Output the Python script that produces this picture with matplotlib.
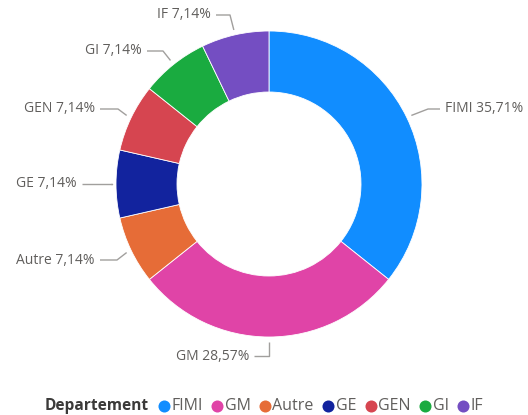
import numpy as np
import matplotlib
matplotlib.use('Agg')
from matplotlib import pyplot as plt

# data
categories = ['FIMI', 'GM', 'Autre', 'GE', 'GEN', 'GI', 'IF']
counts = [5, 4, 1, 1, 1, 1, 1]
colors = ['#118DFF', '#E044A7', '#E66C37', '#12239E', '#D64550', '#1AAB40', '#744EC2']
legend_title = 'Departement'

W, H = 528, 415
CX, CY = 269, 184      # donut centre, pixels from top-left
R_OUT, R_IN = 153, 92

# label layout: (elbow x, elbow y, line end x, text side)
label_layout = {
    'FIMI': (428, 109, 440, 'left'),
    'GM': (269, 356, 254, 'right'),
    'Autre': (117, 260, 100, 'right'),
    'GE': (112, 184, 82, 'right'),
    'GEN': (118, 109, 100, 'right'),
    'GI': (163, 51, 147, 'right'),
    'IF': (230, 15, 216, 'right'),
}

plt.rcParams['font.family'] = ['Open Sans', 'DejaVu Sans']
LABEL_COLOR = '#605E5C'
LINE_COLOR = '#A19F9D'

fig = plt.figure(figsize=(W / 100, H / 100), dpi=100)
ax = fig.add_axes([0, 0, 1, 1])
ax.set_xlim(0, W)
ax.set_ylim(0, H)
ax.set_aspect('equal')
ax.axis('off')

def fy(y):
    return H - y

wedges, _ = ax.pie(counts, colors=colors, startangle=90, counterclock=False,
                   radius=R_OUT, center=(CX, fy(CY)),
                   wedgeprops=dict(width=R_OUT - R_IN, edgecolor='white', linewidth=0.6))
ax.set_xlim(0, W)
ax.set_ylim(0, H)

total = float(sum(counts))
for w, cat, c in zip(wedges, categories, counts):
    ang = np.deg2rad((w.theta1 + w.theta2) / 2.)
    sx = CX + (R_OUT + 5) * np.cos(ang)
    sy = CY - (R_OUT + 5) * np.sin(ang)
    ex, ey, lx, side = label_layout[cat]
    ax.plot([sx, ex, lx], [fy(sy), fy(ey), fy(ey)], color=LINE_COLOR, lw=1.0,
            solid_capstyle='butt')
    pct = ('%.2f%%' % (100. * c / total)).replace('.', ',')
    tx = lx + 5 if side == 'left' else lx - 5
    ax.text(tx, fy(ey), '%s %s' % (cat, pct), ha=side, va='center',
            fontsize=10, color=LABEL_COLOR)

# legend drawn by hand
fig.canvas.draw()
rend = fig.canvas.get_renderer()
LY = 406
t = ax.text(45, fy(LY), legend_title, ha='left', va='center', fontsize=11.2,
            fontweight='bold', color='#3B3A39')
x = t.get_window_extent(rend).x1 + 9
for cat, col in zip(categories, colors):
    ax.scatter([x + 5.5], [fy(LY)], s=75, color=col, linewidths=0)
    tt = ax.text(x + 13, fy(LY), cat, ha='left', va='center', fontsize=11.5,
                 color=LABEL_COLOR)
    x = tt.get_window_extent(rend).x1 + 9

fig.savefig('out.png', dpi=100)
